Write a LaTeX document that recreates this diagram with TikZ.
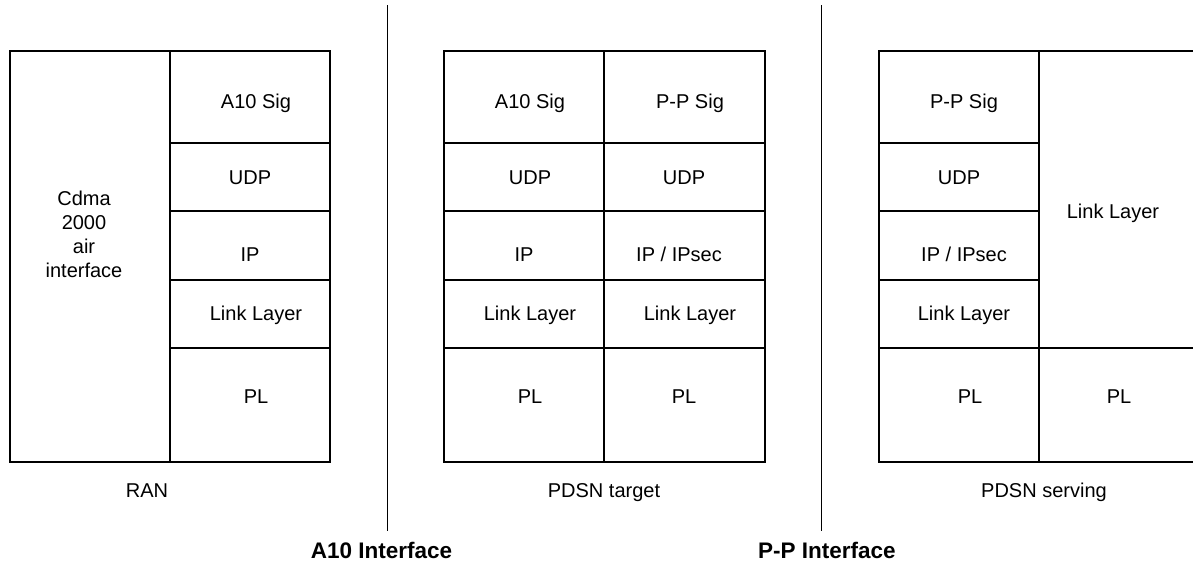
\documentclass[tikz,border=0pt]{standalone}
\usepackage{fontspec}
\setmainfont{Liberation Sans}
\begin{document}
\begin{tikzpicture}[x=1pt,y=-1pt,
  grid/.style={line width=1.2pt, black},
  divider/.style={line width=1.4pt, black},
  lbl/.style={font=\fontsize{20}{24}\selectfont, inner sep=0pt, text height=14.3pt, text depth=0pt, anchor=center},
  caption/.style={font=\fontsize{20}{24}\selectfont, inner sep=0pt, text height=14.3pt, text depth=0pt, anchor=center},
  iface/.style={font=\fontsize{22.5}{27}\selectfont\bfseries, inner sep=0pt, text height=16.1pt, text depth=0pt, anchor=center}]
\useasboundingbox (0,0) rectangle (1193,566);

% ---- RAN stack ----
\draw[grid] (10,51) rectangle (330,462);
\draw[grid] (170,51) -- (170,462);
\foreach \yy in {143,211,280,348} \draw[grid] (170,\yy) -- (330,\yy);
\node[lbl, align=center, text height=, text depth=] (cdma) at (84,234) {Cdma\\2000\\air\\interface};
\node[lbl] (ranSig) at (256,101) {A10 Sig};
\node[lbl] (ranUdp) at (250,177) {UDP};
\node[lbl] (ranIp) at (250,254) {IP};
\node[lbl] (ranLink) at (256,313) {Link Layer};
\node[lbl] (ranPl) at (256,396) {PL};
\node[caption] (ran) at (147,490) {RAN};

% ---- PDSN target stack ----
\draw[grid] (444,51) rectangle (765,462);
\draw[grid] (604,51) -- (604,462);
\foreach \yy in {143,211,280,348} \draw[grid] (444,\yy) -- (765,\yy);
\node[lbl] (tSigA) at (530,101) {A10 Sig};
\node[lbl] (tSigP) at (690,101) {P-P Sig};
\node[lbl] (tUdpA) at (530,177) {UDP};
\node[lbl] (tUdpP) at (684,177) {UDP};
\node[lbl] (tIpA) at (524,254) {IP};
\node[lbl] (tIpP) at (679,254) {IP / IPsec};
\node[lbl] (tLinkA) at (530,313) {Link Layer};
\node[lbl] (tLinkP) at (690,313) {Link Layer};
\node[lbl] (tPlA) at (530,396) {PL};
\node[lbl] (tPlP) at (684,396) {PL};
\node[caption] (target) at (604,490) {PDSN target};

% ---- PDSN serving stack (open on the right) ----
\draw[grid] (1193,51) -- (879,51) -- (879,462) -- (1193,462);
\draw[grid] (1039,51) -- (1039,462);
\foreach \yy in {143,211,280} \draw[grid] (879,\yy) -- (1039,\yy);
\draw[grid] (879,348) -- (1193,348);
\node[lbl] (sSig) at (964,101) {P-P Sig};
\node[lbl] (sUdp) at (959,177) {UDP};
\node[lbl] (sIp) at (964,254) {IP / IPsec};
\node[lbl] (sLink) at (964,313) {Link Layer};
\node[lbl] (sPl) at (970,396) {PL};
\node[lbl] (sLinkR) at (1113,211) {Link Layer};
\node[lbl] (sPlR) at (1119,396) {PL};
\node[caption] (serving) at (1044,490) {PDSN serving};

% ---- interface dividers ----
\coordinate (aTop) at (387.5,5);
\coordinate (aBot) at (387.5,531);
\coordinate (pTop) at (821.5,5);
\coordinate (pBot) at (821.5,531);
\draw[divider] (aTop) -- (aBot);
\draw[divider] (pTop) -- (pBot);
\node[iface] (aIf) at (381.5,550) {A10 Interface};
\node[iface] (pIf) at (827,550) {P-P Interface};
\end{tikzpicture}
\end{document}
